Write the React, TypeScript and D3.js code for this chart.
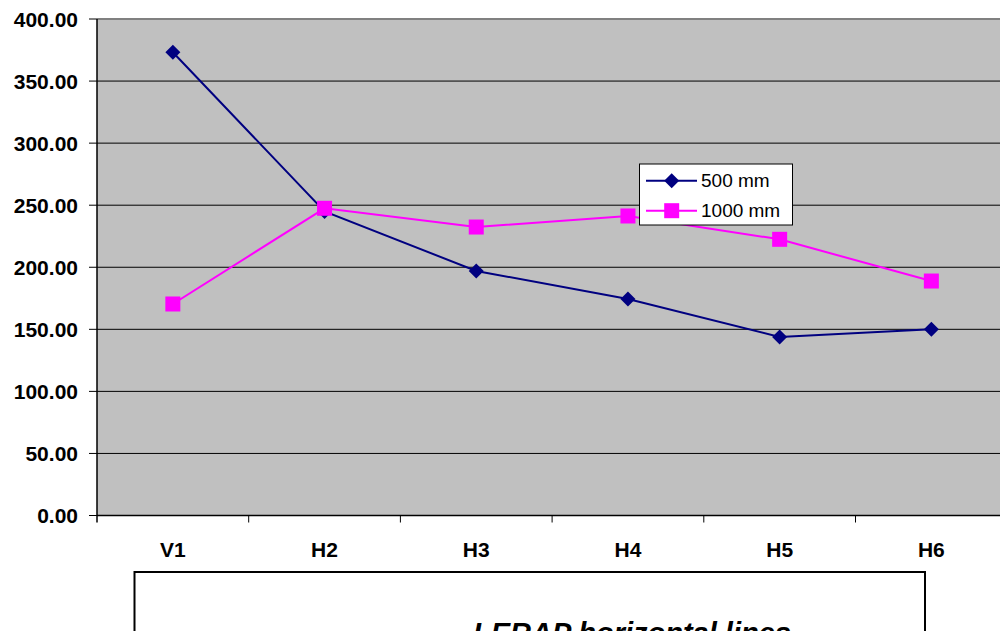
import * as d3 from "d3";

const categories = ["V1", "H2", "H3", "H4", "H5", "H6"];
const series500 = [373.2, 245.0, 197.0, 174.4, 143.8, 150.0];
const series1000 = [170.4, 247.5, 232.4, 241.3, 222.5, 188.9];
const yTicks = [0, 50, 100, 150, 200, 250, 300, 350, 400];

const series = [
  { name: "500 mm", values: series500, color: "#000080", marker: "diamond" },
  { name: "1000 mm", values: series1000, color: "#ff00ff", marker: "square" },
];

const width = 1000;
const height = 631;
const left = 97;
const top = 19;
const bottom = 515.5;
const band = 151.7;

const App = () => {
  // scales
  const x = d3
    .scaleBand()
    .domain(categories)
    .range([left, left + band * categories.length]);
  const y = d3.scaleLinear().domain([0, 400]).range([bottom, top]);

  const cx = (c) => (x(c) as number) + x.bandwidth() / 2;

  const line = d3
    .line<number>()
    .x((_, i) => cx(categories[i]))
    .y((d) => y(d));

  const marker = (kind, px, py, color) =>
    kind === "diamond" ? (
      <path
        d={`M${px},${py - 7.5}L${px + 7.5},${py}L${px},${py + 7.5}L${px - 7.5},${py}Z`}
        fill={color}
      />
    ) : (
      <rect x={px - 7.5} y={py - 7.5} width={15} height={15} fill={color} />
    );

  const font = "Arial, 'Liberation Sans', sans-serif";

  return (
    <svg
      width={width}
      height={height}
      style={{ position: "absolute", left: 0, top: 0, background: "#fff" }}
      fontFamily={font}
    >
      {/* plot area */}
      <rect
        x={left}
        y={top}
        width={band * categories.length}
        height={bottom - top}
        fill="#c0c0c0"
      />
      <line x1={left} x2={width} y1={top} y2={top} stroke="#808080" strokeWidth={2} />

      {/* gridlines and y axis */}
      {yTicks.map((t) => (
        <g key={t}>
          {t > 0 && t < 400 && (
            <line x1={left} x2={width} y1={y(t)} y2={y(t)} stroke="#000" strokeWidth={1} />
          )}
          <line x1={left - 8} x2={left} y1={y(t)} y2={y(t)} stroke="#000" strokeWidth={1} />
          <text
            x={78}
            y={y(t)}
            dy="0.36em"
            textAnchor="end"
            fontSize={21}
            fontWeight="bold"
          >
            {t.toFixed(2)}
          </text>
        </g>
      ))}
      <line x1={left} x2={left} y1={top} y2={bottom + 7} stroke="#000" strokeWidth={1.5} />
      <line x1={left} x2={width} y1={bottom} y2={bottom} stroke="#000" strokeWidth={1.5} />

      {/* x axis */}
      {categories.map((c) => (
        <g key={c}>
          <line
            x1={(x(c) as number) + x.bandwidth()}
            x2={(x(c) as number) + x.bandwidth()}
            y1={bottom}
            y2={bottom + 7}
            stroke="#000"
            strokeWidth={1}
          />
          <text x={cx(c)} y={557} textAnchor="middle" fontSize={21} fontWeight="bold">
            {c}
          </text>
        </g>
      ))}

      {/* series */}
      {series.map((s) => (
        <g key={s.name}>
          <path d={line(s.values) as string} fill="none" stroke={s.color} strokeWidth={2} />
          {s.values.map((v, i) => (
            <g key={i}>{marker(s.marker, cx(categories[i]), y(v), s.color)}</g>
          ))}
        </g>
      ))}

      {/* legend */}
      <rect x={639.5} y={164} width={153} height={61} fill="#fff" stroke="#000" strokeWidth={1} />
      {series.map((s, i) => {
        const ly = 180.7 + i * 30;
        return (
          <g key={s.name}>
            <line x1={646} x2={697} y1={ly} y2={ly} stroke={s.color} strokeWidth={2} />
            {marker(s.marker, 671.7, ly, s.color)}
            <text x={701} y={ly + 6.5} fontSize={19}>
              {s.name}
            </text>
          </g>
        );
      })}

      {/* title box */}
      <rect x={134.5} y={572} width={790.5} height={80} fill="#fff" stroke="#000" strokeWidth={2} />
      <text
        x={473}
        y={643}
        fontSize={29}
        fontWeight="bold"
        fontStyle="italic"
      >
        LERAP horizontal lines
      </text>
    </svg>
  );
};

export default App;
